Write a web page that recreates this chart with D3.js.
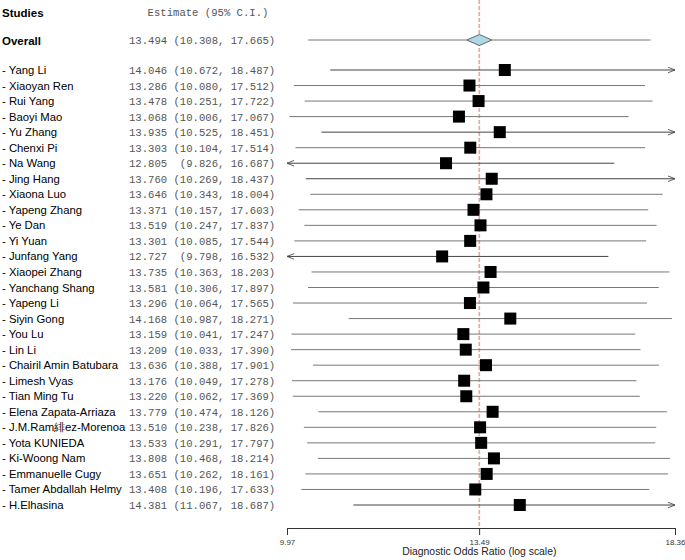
<!DOCTYPE html>
<html>
<head>
<meta charset="utf-8">
<script src="https://cdn.jsdelivr.net/npm/d3@7"></script>
<style>
  body { margin: 0; background: #fff; }
  text { white-space: pre; }
</style>
</head>
<body>
<svg width="685" height="560"></svg>
<script>
const width = 685, height = 560

// studies and their diagnostic odds ratios
const studies = ["Yang Li", "Xiaoyan Ren", "Rui Yang", "Baoyi Mao", "Yu Zhang", "Chenxi Pi", "Na Wang",
  "Jing Hang", "Xiaona Luo", "Yapeng Zhang", "Ye Dan", "Yi Yuan", "Junfang Yang", "Xiaopei Zhang",
  "Yanchang Shang", "Yapeng Li", "Siyin Gong", "You Lu", "Lin Li", "Chairil Amin Batubara", "Limesh Vyas",
  "Tian Ming Tu", "Elena Zapata-Arriaza", "J.M.Ram\u7dcbez-Morenoa", "Yota KUNIEDA", "Ki-Woong Nam",
  "Emmanuelle Cugy", "Tamer Abdallah Helmy", "H.Elhasina"]
const estimates = [14.046, 13.286, 13.478, 13.068, 13.935, 13.303, 12.805, 13.760, 13.646, 13.371, 13.519,
  13.301, 12.727, 13.735, 13.581, 13.296, 14.168, 13.159, 13.209, 13.636, 13.176, 13.220, 13.779, 13.510,
  13.533, 13.808, 13.651, 13.408, 14.381]
const lower = [10.672, 10.080, 10.251, 10.006, 10.525, 10.104, 9.826, 10.269, 10.343, 10.157, 10.247,
  10.085, 9.798, 10.363, 10.306, 10.064, 10.987, 10.041, 10.033, 10.388, 10.049, 10.062, 10.474, 10.238,
  10.291, 10.468, 10.262, 10.196, 11.067]
const upper = [18.487, 17.512, 17.722, 17.067, 18.451, 17.514, 16.687, 18.437, 18.004, 17.603, 17.837,
  17.544, 16.532, 18.203, 17.897, 17.565, 18.271, 17.247, 17.390, 17.901, 17.278, 17.369, 18.126, 17.826,
  17.797, 18.214, 18.161, 17.633, 18.687]

const overall = { est: 13.494, lo: 10.308, hi: 17.665 }
const tickValues = [9.97, 13.49, 18.36]

const svg = d3.select("svg")

const x = d3.scaleLog()
  .domain([9.97, 18.36])
  .range([287, 675])

// row positions: study rows start at 70
const y = d3.scaleLinear()
  .domain([0, studies.length - 1])
  .range([70, 505])
const yOverall = 40
const yAxis = 528

const sans = "Liberation Sans, Arial, sans-serif"
const mono = "Liberation Mono, Courier New, monospace"

const fmt = d3.format(".3f")
function ciText(e, l, h) {
  return fmt(e) + " " + ("(" + fmt(l)).padStart(7) + ", " + fmt(h) + ")"
}

// arrow markers
const defs = svg.append("defs")
defs.append("marker")
  .attr("id", "arrowR")
  .attr("viewBox", "0 0 10 10")
  .attr("refX", 10).attr("refY", 5)
  .attr("markerWidth", 7).attr("markerHeight", 7)
  .attr("markerUnits", "userSpaceOnUse")
  .attr("orient", "auto")
  .append("path")
  .attr("d", "M0,1 L10,5 L0,9")
  .attr("fill", "none")
  .attr("stroke", "#444")
  .attr("stroke-width", 1.2)
defs.append("marker")
  .attr("id", "arrowL")
  .attr("viewBox", "0 0 10 10")
  .attr("refX", 0).attr("refY", 5)
  .attr("markerWidth", 7).attr("markerHeight", 7)
  .attr("markerUnits", "userSpaceOnUse")
  .attr("orient", "auto")
  .append("path")
  .attr("d", "M10,1 L0,5 L10,9")
  .attr("fill", "none")
  .attr("stroke", "#444")
  .attr("stroke-width", 1.2)

// header
svg.append("text")
  .attr("x", 2).attr("y", 17)
  .attr("font-family", sans).attr("font-size", 11.5).attr("font-weight", "bold")
  .text("Studies")
svg.append("text")
  .attr("x", 208).attr("y", 16)
  .attr("text-anchor", "middle")
  .attr("font-family", mono).attr("font-size", 10.6).attr("fill", "#555")
  .text("Estimate (95% C.I.)")

// reference line at pooled estimate
svg.append("line")
  .attr("x1", x(overall.est)).attr("x2", x(overall.est))
  .attr("y1", 0).attr("y2", yAxis)
  .attr("stroke", "#f4a0a0")
  .attr("stroke-width", 1.6)
  .attr("stroke-dasharray", "4,2")

// overall row
svg.append("text")
  .attr("x", 2).attr("y", yOverall + 5)
  .attr("font-family", sans).attr("font-size", 11.5).attr("font-weight", "bold")
  .text("Overall")
svg.append("text")
  .attr("x", 129).attr("y", yOverall + 4)
  .attr("font-family", mono).attr("font-size", 10.6).attr("fill", "#555")
  .text(ciText(overall.est, overall.lo, overall.hi))
svg.append("line")
  .attr("x1", x(overall.lo)).attr("x2", x(overall.hi))
  .attr("y1", yOverall).attr("y2", yOverall)
  .attr("stroke", "#777")
svg.append("path")
  .attr("d", () => {
    const cx = x(overall.est)
    return `M${cx - 12.5},${yOverall} L${cx},${yOverall - 5.5} L${cx + 12.5},${yOverall} L${cx},${yOverall + 5.5} Z`
  })
  .attr("fill", "#add8e6")
  .attr("stroke", "#666")

// study rows
const rows = svg.append("g")
  .selectAll("g")
  .data(studies.map((s, i) => ({ name: s, est: estimates[i], lo: lower[i], hi: upper[i], i: i })))
  .join("g")

rows.append("text")
  .attr("x", 2).attr("y", d => y(d.i) + 4)
  .attr("font-family", sans).attr("font-size", 11.3)
  .text(d => "- " + d.name)

rows.append("text")
  .attr("x", 129).attr("y", d => y(d.i) + 4)
  .attr("font-family", mono).attr("font-size", 10.6).attr("fill", "#555")
  .text(d => ciText(d.est, d.lo, d.hi))

const [dMin, dMax] = x.domain()
rows.append("line")
  .attr("x1", d => x(Math.max(d.lo, dMin)))
  .attr("x2", d => x(Math.min(d.hi, dMax)))
  .attr("y1", d => y(d.i)).attr("y2", d => y(d.i))
  .attr("stroke", d => (d.lo < dMin || d.hi > dMax) ? "#444" : "#777")
  .attr("marker-end", d => d.hi > dMax ? "url(#arrowR)" : null)
  .attr("marker-start", d => d.lo < dMin ? "url(#arrowL)" : null)

rows.append("rect")
  .attr("x", d => x(d.est) - 6)
  .attr("y", d => y(d.i) - 6)
  .attr("width", 12).attr("height", 12)
  .attr("fill", "#000")

// axis
const axis = svg.append("g")
  .attr("transform", `translate(0,${yAxis})`)
  .call(d3.axisBottom(x)
    .tickValues(tickValues)
    .tickFormat(d3.format(".2f"))
    .tickSize(7)
    .tickSizeOuter(0))
axis.select(".domain").attr("stroke", "#333")
axis.selectAll(".tick line").attr("stroke", "#333")
axis.selectAll(".tick text")
  .attr("font-family", sans).attr("font-size", 8).attr("fill", "#333")
  .attr("dy", "0.9em")

svg.append("text")
  .attr("x", x(overall.est)).attr("y", 555)
  .attr("text-anchor", "middle")
  .attr("font-family", sans).attr("font-size", 10.4).attr("fill", "#222")
  .text("Diagnostic Odds Ratio (log scale)")
</script>
</body>
</html>
